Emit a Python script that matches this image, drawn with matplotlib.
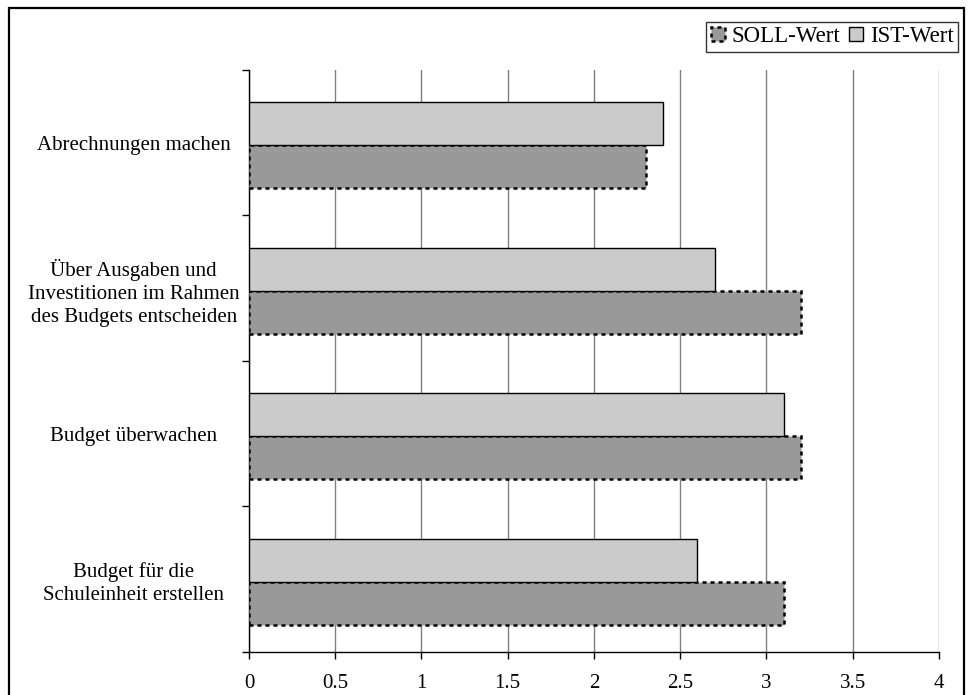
import matplotlib
matplotlib.use("Agg")
import matplotlib.pyplot as plt
from matplotlib.patches import Rectangle, Patch
import numpy as np

plt.rcParams['font.family'] = ['Liberation Serif', 'DejaVu Serif']

# Categories listed bottom to top
categories = [
    "Budget für die\nSchuleinheit erstellen",
    "Budget überwachen",
    "Über Ausgaben und\nInvestitionen im Rahmen\ndes Budgets entscheiden",
    "Abrechnungen machen",
]
soll_values = [3.1, 3.2, 3.2, 2.3]
ist_values = [2.6, 3.1, 2.7, 2.4]
x_ticks = [0, 0.5, 1, 1.5, 2, 2.5, 3, 3.5, 4]
x_tick_labels = ["0", "0.5", "1", "1.5", "2", "2.5", "3", "3.5", "4"]

soll_color = "#999999"
ist_color = "#cbcbcb"
dash = (0, (1.6, 1.6))

fig = plt.figure(figsize=(9.74, 6.95), dpi=100)
ax = fig.add_axes([0.2556, 0.0619, 0.7084, 0.8374])

y = np.arange(len(categories))
h = 0.296
off = -0.017
ax.barh(y - h / 2 + off, soll_values, height=h, color=soll_color,
        edgecolor="black", linestyle=dash, linewidth=1.8, zorder=3,
        label="SOLL-Wert")
ax.barh(y + h / 2 + off, ist_values, height=h, color=ist_color,
        edgecolor="black", linewidth=1.0, zorder=3, label="IST-Wert")

ax.set_xlim(0, 4)
ax.set_ylim(-0.5, len(categories) - 0.5)
ax.set_xticks(x_ticks)
ax.set_xticklabels(x_tick_labels, fontsize=15)
ax.xaxis.grid(True, color="#808080", linewidth=1.0, zorder=0)

# category labels centred between separator ticks
ax.set_yticks(y)
ax.set_yticklabels(categories, fontsize=15, ha="center", multialignment="center",
                   linespacing=1.3)
ax.tick_params(axis="y", which="major", length=0, pad=83)
ax.set_yticks(np.arange(-0.5, len(categories)), minor=True)
ax.tick_params(axis="y", which="minor", length=5, width=1.0, direction="out")
ax.tick_params(axis="x", length=5, width=1.0, direction="out", pad=11)

for side in ["top", "right"]:
    ax.spines[side].set_visible(False)
ax.spines["left"].set_linewidth(1.0)
ax.spines["bottom"].set_linewidth(1.0)

handles = [
    Patch(facecolor=soll_color, edgecolor="black", linestyle=dash, linewidth=1.8),
    Patch(facecolor=ist_color, edgecolor="black", linewidth=1.0),
]
leg = fig.legend(handles, ["SOLL-Wert", "IST-Wert"], loc="upper right",
                 bbox_to_anchor=(0.984, 0.969), ncol=2, fontsize=16.5,
                 frameon=True, fancybox=False, edgecolor="black",
                 handlelength=0.6, handleheight=0.6, handletextpad=0.3,
                 columnspacing=0.4, borderpad=0.2, borderaxespad=0)
leg.get_frame().set_linewidth(1.0)

# outer frame around the chart area
fig.patches.append(Rectangle((9 / 974, -0.05), (964 - 9) / 974, 1.05 - 8 / 695,
                             transform=fig.transFigure, fill=False,
                             edgecolor="black", linewidth=1.6))

fig.savefig("out.png", dpi=100)
